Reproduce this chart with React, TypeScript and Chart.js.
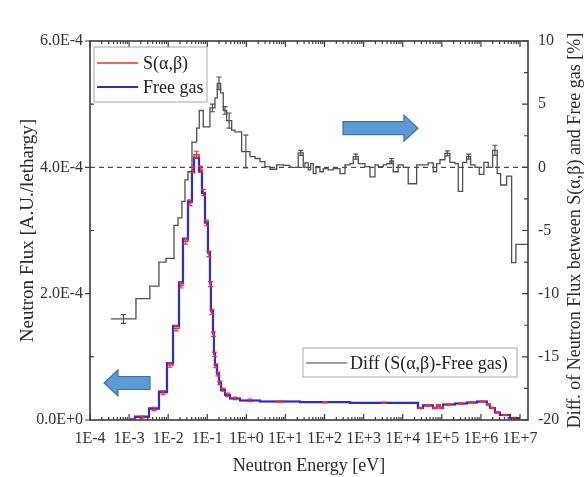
import React, { useEffect, useRef } from 'react';
import { Chart, registerables } from 'chart.js';
Chart.register(...registerables);

// ---------- data ----------
const xTicks = [1e-4, 1e-3, 1e-2, 1e-1, 1e0, 1e1, 1e2, 1e3, 1e4, 1e5, 1e6, 1e7];

// Flux histograms (bin edges in eV, values in A.U./lethargy)
const fluxEdges = [1.05e-3, 1.42e-3, 3.23e-3, 5.82e-3, 9.31e-3, 1.33e-2, 1.89e-2, 2.39e-2, 3.21e-2, 4.06e-2,
  4.57e-2, 6.14e-2, 7.31e-2, 8.73e-2, 0.104, 0.117, 0.124, 0.140, 0.148, 0.157,
  0.177, 0.199, 0.224, 0.284, 0.381, 0.686, 2.23, 23.5, 447, 2.45e4,
  3.29e4, 5.92e4, 7.50e4, 8.94e4, 1.07e5, 2.16e5, 4.39e5, 7.91e5, 1.42e6, 1.70e6,
  2.28e6, 3.06e6, 5.52e6, 9.94e6];
const freeGas = [1.6e-6, 5.2e-6, 1.85e-5, 4.48e-5, 9.02e-5, 1.49e-4, 2.18e-4, 2.87e-4, 3.46e-4, 3.93e-4,
  4.15e-4, 3.93e-4, 3.59e-4, 3.13e-4, 2.66e-4, 2.18e-4, 1.74e-4, 1.38e-4, 1.06e-4, 8.7e-5,
  7.4e-5, 5.9e-5, 4.75e-5, 3.96e-5, 3.4e-5, 3.09e-5, 2.93e-5, 2.82e-5, 2.72e-5, 1.9e-5,
  2.3e-5, 1.9e-5, 2.3e-5, 1.9e-5, 2.45e-5, 2.61e-5, 2.77e-5, 2.93e-5, 2.45e-5, 1.9e-5,
  1.19e-5, 7.9e-6, 3.2e-6];
const sab = [1.5e-6, 4.5e-6, 1.75e-5, 4.3e-5, 8.7e-5, 1.45e-4, 2.13e-4, 2.83e-4, 3.44e-4, 3.96e-4,
  4.2e-4, 3.97e-4, 3.6e-4, 3.12e-4, 2.63e-4, 2.15e-4, 1.71e-4, 1.36e-4, 1.04e-4, 8.6e-5,
  7.3e-5, 5.9e-5, 4.8e-5, 4.0e-5, 3.42e-5, 3.1e-5, 2.93e-5, 2.82e-5, 2.72e-5, 1.9e-5,
  2.3e-5, 1.9e-5, 2.3e-5, 1.9e-5, 2.45e-5, 2.61e-5, 2.77e-5, 2.93e-5, 2.45e-5, 1.9e-5,
  1.19e-5, 7.9e-6, 3.2e-6];
const sabErr = [1e-6, 1.5e-6, 2.5e-6, 3e-6, 3.5e-6, 4e-6, 4e-6, 4.5e-6, 4.5e-6, 5e-6,
  5.5e-6, 5e-6, 5e-6, 4.5e-6, 4.5e-6, 4e-6, 4e-6, 3.5e-6, 3.5e-6, 3e-6,
  3e-6, 3e-6, 2.5e-6, 2.5e-6, 2e-6, 2e-6, 1e-6, 1e-6, 1e-6, 1e-6,
  1e-6, 1e-6, 1e-6, 1e-6, 1e-6, 1e-6, 1e-6, 1e-6, 1e-6, 1e-6,
  1e-6, 1e-6, 1e-6];

// Difference histogram (%), right axis
const diffEdges = [3.44e-4, 1.5e-3, 3.4e-3, 5.8e-3, 8.8e-3, 1.41e-2, 1.78e-2, 2.25e-2, 2.69e-2, 3.21e-2,
  4.06e-2, 5.36e-2, 6.24e-2, 7.9e-2, 0.117, 0.157, 0.180, 0.220, 0.257, 0.313,
  0.421, 0.511, 0.758, 1.24, 1.66, 2.23, 2.99, 4.02, 5.96, 8.79,
  13.0, 21.2, 28.5, 31.5, 38.3, 44.1, 51.4, 60.3, 76.3, 92.6,
  124, 167, 248, 333, 447, 542, 728, 1080, 1450, 1950,
  2360, 3170, 3870, 4710, 5720, 7670, 1.03e4, 1.38e4, 2.27e4, 4.48e4,
  6.03e4, 7.36e4, 8.94e4, 1.2e5, 1.61e5, 2.16e5, 2.63e5, 3.4e5, 4.31e5, 5.45e5,
  7.03e5, 9.06e5, 1.19e6, 1.54e6, 1.99e6, 2.61e6, 3.19e6, 4.54e6, 6.09e6, 7.85e6,
  1.6e7];
const diffVals = [-12.0, -10.4, -9.4, -7.5, -7.2, -4.6, -4.0, -2.7, -1.0, -0.35,
  2.0, 3.1, 4.5, 3.2, 4.7, 5.5, 6.65, 5.9, 4.5, 3.7,
  2.95, 2.8, 1.25, 0.85, 0.7, 0.45, 0.05, -0.15, 0.2, 0.15,
  0.0, 1.15, 0.0, 0.35, -0.2, 0.3, -0.5, 0.05, -0.35, -0.1,
  -0.2, -0.1, -0.5, 0.2, 0.3, 0.85, 0.3, 0.05, -0.75, 0.2,
  0.05, 0.2, 0.3, 0.5, -0.35, 0.2, 0.0, -1.3, 0.2, 0.35,
  -0.35, 0.3, 0.6, 1.1, 0.4, 0.3, -1.9, 0.4, 0.85, 0.2,
  0.0, -0.55, 0.4, 0.0, 1.35, -0.5, -1.4, -0.7, -7.55, -6.1];
const diffErr = [0.35, 0, 0, 0, 0, 0, 0, 0, 0, 0,
  0, 0, 0, 0, 0.3, 0, 0.5, 0, 0.3, 0.6,
  0, 0, 1.3, 0, 0, 0, 0, 0, 0, 0,
  0, 0.2, 0, 0, 0, 0, 0, 0, 0, 0,
  0, 0, 0, 0, 0, 0.2, 0, 0, 0, 0,
  0, 0, 0, 0.2, 0, 0, 0, 0, 0, 0,
  0, 0, 0, 0.2, 0, 0, 0, 0, 0.2, 0,
  0, 0, 0, 0, 0.4, 0, 0, 0, 0, 0];

// Annotation arrows (energy, left-axis flux)
const arrowRight = { tailE: 296, tipE: 2.45e4, flux: 4.62e-4 };
const arrowLeft = { tailE: 3.43e-3, tipE: 2.28e-4, flux: 5.86e-5 };

const FONT = "'Liberation Serif', 'Times New Roman', serif";

function steps(edges: number[], vals: number[]) {
  const pts = vals.map((v, i) => ({ x: edges[i], y: v }));
  pts.push({ x: edges[edges.length - 1], y: vals[vals.length - 1] });
  return pts;
}

function sciLabel(v: number) {
  return v.toExponential(1).toUpperCase();
}

const decoPlugin = {
  id: 'deco',
  beforeDatasetsDraw(chart: any) {
    const { ctx, chartArea: a, scales } = chart;
    const y0 = scales.y2.getPixelForValue(0);
    ctx.save();
    ctx.setLineDash([5, 4]);
    ctx.strokeStyle = '#222';
    ctx.lineWidth = 1;
    ctx.beginPath();
    ctx.moveTo(a.left, y0);
    ctx.lineTo(a.right, y0);
    ctx.stroke();
    ctx.restore();
  },
  afterDatasetsDraw(chart: any) {
    const { ctx, chartArea: a, scales } = chart;
    const xs = scales.x;
    ctx.save();
    ctx.beginPath();
    ctx.rect(a.left, a.top, a.right - a.left, a.bottom - a.top);
    ctx.clip();
    // error bars
    chart.data.datasets.forEach((ds: any) => {
      if (!ds.errors) return;
      const ys = scales[ds.yAxisID];
      ctx.strokeStyle = ds.errColor;
      ctx.lineWidth = 1.2;
      for (let k = 0; k < ds.vals.length; k++) {
        const e = ds.errors[k];
        if (!e) continue;
        const xc = (xs.getPixelForValue(ds.edges[k]) + xs.getPixelForValue(ds.edges[k + 1])) / 2;
        const yt = ys.getPixelForValue(ds.vals[k] + e);
        const yb = ys.getPixelForValue(ds.vals[k] - e);
        ctx.beginPath();
        ctx.moveTo(xc, yt); ctx.lineTo(xc, yb);
        ctx.moveTo(xc - 2.5, yt); ctx.lineTo(xc + 2.5, yt);
        ctx.moveTo(xc - 2.5, yb); ctx.lineTo(xc + 2.5, yb);
        ctx.stroke();
      }
    });
    ctx.restore();

    // arrows
    const ys = scales.y;
    const drawArrow = (ar: any) => {
      const tip = xs.getPixelForValue(ar.tipE);
      const tail = xs.getPixelForValue(ar.tailE);
      const yc = ys.getPixelForValue(ar.flux);
      const dir = tip > tail ? 1 : -1;
      const headL = 14, headH = 13, shaftH = 6.5;
      const hb = tip - dir * headL;
      ctx.save();
      ctx.beginPath();
      ctx.moveTo(tail, yc - shaftH);
      ctx.lineTo(hb, yc - shaftH);
      ctx.lineTo(hb, yc - headH);
      ctx.lineTo(tip, yc);
      ctx.lineTo(hb, yc + headH);
      ctx.lineTo(hb, yc + shaftH);
      ctx.lineTo(tail, yc + shaftH);
      ctx.closePath();
      ctx.fillStyle = '#5b9bd5';
      ctx.fill();
      ctx.strokeStyle = '#41719c';
      ctx.lineWidth = 1.2;
      ctx.stroke();
      ctx.restore();
    };
    drawArrow(arrowRight);
    drawArrow(arrowLeft);
  },
  afterDraw(chart: any) {
    const { ctx, chartArea: a, scales } = chart;
    const xs = scales.x, ys = scales.y, y2 = scales.y2;
    ctx.save();
    ctx.strokeStyle = '#3c3c3c';
    ctx.lineWidth = 1.6;
    ctx.strokeRect(a.left, a.top, a.right - a.left, a.bottom - a.top);
    ctx.lineWidth = 1.2;
    ctx.beginPath();
    // x ticks (bottom & top, inward)
    for (let d = -4; d <= 7; d++) {
      for (let m = 1; m <= 9; m++) {
        const v = m * Math.pow(10, d);
        if (v > xs.max) break;
        const px = xs.getPixelForValue(v);
        const len = m === 1 ? 6 : 3;
        ctx.moveTo(px, a.bottom); ctx.lineTo(px, a.bottom - len);
        ctx.moveTo(px, a.top); ctx.lineTo(px, a.top + len);
      }
    }
    // left ticks
    ys.ticks.forEach((t: any) => {
      const py = ys.getPixelForValue(t.value);
      if (t.label) { ctx.moveTo(a.left - 5, py); ctx.lineTo(a.left + 1, py); }
      else { ctx.moveTo(a.left, py); ctx.lineTo(a.left + 4, py); }
    });
    // right ticks (inward)
    y2.ticks.forEach((t: any) => {
      const py = y2.getPixelForValue(t.value);
      const len = t.label ? 6 : 4;
      ctx.moveTo(a.right, py); ctx.lineTo(a.right - len, py);
    });
    ctx.stroke();

    // legends
    ctx.font = `18px ${FONT}`;
    ctx.textBaseline = 'middle';
    ctx.textAlign = 'left';
    const b1 = { x: a.left + 4, y: a.top + 6, w: 113, h: 55 };
    ctx.fillStyle = 'rgba(255,255,255,0.9)';
    ctx.fillRect(b1.x, b1.y, b1.w, b1.h);
    ctx.strokeStyle = '#a8a8a8';
    ctx.lineWidth = 1;
    ctx.strokeRect(b1.x, b1.y, b1.w, b1.h);
    const entries = [
      { c: '#ff2a2a', t: 'S(α,β)', dy: 16, w: 1.5 },
      { c: '#2b2bdd', t: 'Free gas', dy: 40, w: 2 },
    ];
    entries.forEach((e) => {
      ctx.strokeStyle = e.c;
      ctx.lineWidth = e.w;
      ctx.beginPath();
      ctx.moveTo(b1.x + 3, b1.y + e.dy); ctx.lineTo(b1.x + 44, b1.y + e.dy);
      ctx.stroke();
      ctx.fillStyle = '#222';
      ctx.fillText(e.t, b1.x + 49, b1.y + e.dy + 1);
    });
    const b2 = { x: a.right - 225, y: a.bottom - 72, w: 214, h: 29 };
    ctx.fillStyle = 'rgba(255,255,255,0.9)';
    ctx.fillRect(b2.x, b2.y, b2.w, b2.h);
    ctx.strokeStyle = '#a8a8a8';
    ctx.lineWidth = 1;
    ctx.strokeRect(b2.x, b2.y, b2.w, b2.h);
    ctx.strokeStyle = '#444';
    ctx.lineWidth = 1.2;
    ctx.beginPath();
    ctx.moveTo(b2.x + 3, b2.y + 15); ctx.lineTo(b2.x + 44, b2.y + 15);
    ctx.stroke();
    ctx.fillStyle = '#222';
    ctx.fillText('Diff (S(α,β)-Free gas)', b2.x + 47, b2.y + 16);

    // axis titles
    ctx.textAlign = 'center';
    ctx.fillStyle = '#2a2a2a';
    ctx.font = `18px ${FONT}`;
    ctx.fillText('Neutron Energy [eV]', (a.left + a.right) / 2, 466);
    ctx.save();
    ctx.translate(28, (a.top + a.bottom) / 2);
    ctx.rotate(-Math.PI / 2);
    ctx.font = `19px ${FONT}`;
    ctx.fillText('Neutron Flux [A.U./lethargy]', 0, 0);
    ctx.restore();
    ctx.save();
    ctx.translate(575, (a.top + a.bottom) / 2);
    ctx.rotate(-Math.PI / 2);
    ctx.font = `18px ${FONT}`;
    ctx.fillText('Diff. of Neutron Flux between S(α,β) and Free gas [%]', 0, 0);
    ctx.restore();
    ctx.restore();
  },
};

export default function App() {
  const ref = useRef<HTMLCanvasElement | null>(null);
  useEffect(() => {
    if (!ref.current) return;
    const tickFont = { family: FONT, size: 16 };
    const chart = new Chart(ref.current, {
      type: 'line',
      data: {
        datasets: [
          {
            label: 'Free gas',
            data: steps(fluxEdges, freeGas),
            borderColor: '#2b2bdd',
            borderWidth: 2.2,
            stepped: 'before',
            pointRadius: 0,
            fill: false,
            yAxisID: 'y',
          },
          {
            label: 'S(α,β)',
            data: steps(fluxEdges, sab),
            borderColor: '#ff2a2a',
            borderWidth: 1.5,
            stepped: 'before',
            pointRadius: 0,
            fill: false,
            yAxisID: 'y',
            edges: fluxEdges,
            vals: sab,
            errors: sabErr,
            errColor: '#ff2a2a',
          } as any,
          {
            label: 'Diff (S(α,β)-Free gas)',
            data: steps(diffEdges, diffVals),
            borderColor: '#505050',
            borderWidth: 1.3,
            stepped: 'before',
            pointRadius: 0,
            fill: false,
            yAxisID: 'y2',
            edges: diffEdges,
            vals: diffVals,
            errors: diffErr,
            errColor: '#505050',
          } as any,
        ],
      },
      options: {
        animation: false,
        responsive: false,
        devicePixelRatio: 1,
        layout: { padding: { top: 41, left: 0, right: 0, bottom: 0 } },
        plugins: { legend: { display: false }, tooltip: { enabled: false } },
        scales: {
          x: {
            type: 'logarithmic',
            position: 'bottom',
            min: 1e-4,
            max: 1.6e7,
            grid: { display: false, drawTicks: false },
            border: { display: false },
            afterBuildTicks: (s: any) => { s.ticks = xTicks.map((v) => ({ value: v })); },
            afterFit: (s: any) => { s.height = 57; },
            ticks: {
              autoSkip: false,
              maxRotation: 0,
              padding: 9,
              color: '#333',
              font: tickFont,
              callback: (v: any) => {
                const e = Math.round(Math.log10(Number(v)));
                return `1E${e >= 0 ? '+' : '-'}${Math.abs(e)}`;
              },
            },
          },
          y: {
            type: 'linear',
            position: 'left',
            min: 0,
            max: 6e-4,
            grid: { display: false, drawTicks: false },
            border: { display: false },
            afterFit: (s: any) => { s.width = 90; },
            ticks: {
              stepSize: 1e-4,
              padding: 7,
              color: '#333',
              font: tickFont,
              callback: (v: any) => (Math.round(Number(v) / 1e-4) % 2 === 0 ? sciLabel(Number(v)) : ''),
            },
          },
          y2: {
            type: 'linear',
            position: 'right',
            min: -20,
            max: 10,
            grid: { display: false, drawTicks: false },
            border: { display: false },
            afterFit: (s: any) => { s.width = 59; },
            ticks: {
              stepSize: 2.5,
              padding: 10,
              color: '#333',
              font: tickFont,
              callback: (v: any) => (Number(v) % 5 === 0 ? String(v) : ''),
            },
          },
        },
      },
      plugins: [decoPlugin],
    } as any);
    return () => chart.destroy();
  }, []);
  return (
    <div style={{ position: 'fixed', left: 0, top: 0, width: 587, height: 477, background: '#fff' }}>
      <canvas ref={ref} width={587} height={477} style={{ display: 'block', width: 587, height: 477 }} />
    </div>
  );
}
